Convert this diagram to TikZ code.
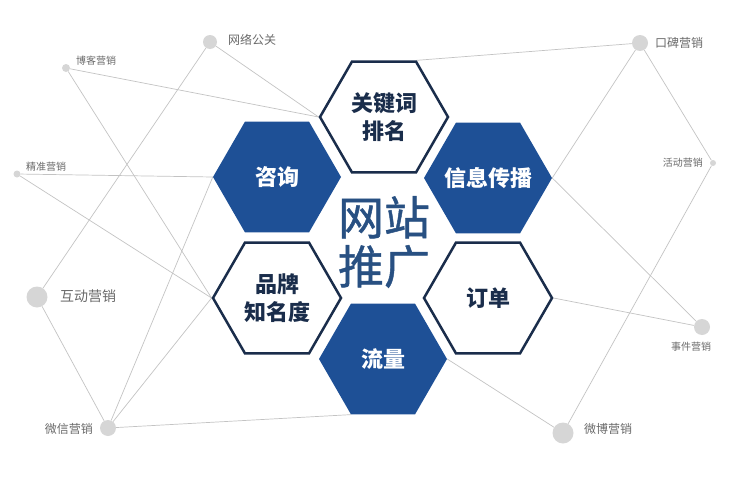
\documentclass[tikz,border=0pt]{standalone}
\usepackage{fontspec}
\newfontfamily\cjk{Noto Sans CJK SC}
\newfontfamily\cjkmid[FakeBold=1]{Noto Sans CJK SC}
\usetikzlibrary{shapes.geometric}
\usetikzlibrary{backgrounds}
\definecolor{hexblue}{RGB}{30,80,150}
\definecolor{hexnavy}{RGB}{26,45,75}
\definecolor{titleblue}{RGB}{40,80,130}
\definecolor{linegray}{RGB}{195,195,195}
\definecolor{dotgray}{RGB}{214,214,214}
\definecolor{labelgray}{RGB}{105,105,105}
\tikzset{
	hexfill/.style={regular polygon,regular polygon sides=6,minimum size=128pt,inner sep=0pt,inner xsep=-14pt,
		fill=hexblue,text=white,align=center,font=\cjk\bfseries\fontsize{22}{28}\selectfont},
	hexline/.style={hexfill,fill=white,draw=hexnavy,line width=2.5pt,text=hexnavy},
	spot/.style={circle,fill=dotgray,inner sep=0pt,minimum size=#1},
	tag/.style={text=labelgray,inner sep=0pt,font=\cjk\fontsize{#1}{#1}\selectfont},
	link/.style={draw=linegray,line width=0.7pt}
}
\begin{document}
\begin{tikzpicture}[x=1pt,y=-1pt]
	\useasboundingbox (0,0) rectangle (750,479);

	% honeycomb
	\node[hexline] (kw) at (384,117) {关键词\\排名};
	\node[hexfill] (zx) at (277,177) {咨询};
	\node[hexfill] (xx) at (488,178) {信息传播};
	\node[hexline] (pp) at (277,298) {品牌\\知名度};
	\node[hexline] (dd) at (488,298) {订单};
	\node[hexfill] (ll) at (383,359) {流量};
	\node[text=titleblue,align=center,font=\cjkmid\fontsize{46}{49}\selectfont] (wz) at (384,242) {网站\\推广};

	% outer dots
	\node[spot=14pt] (wl) at (210,42) {};
	\node[spot=8pt] (bk) at (66,68) {};
	\node[spot=7pt] (jz) at (17,174) {};
	\node[spot=21pt] (hd) at (37,297) {};
	\node[spot=16pt] (wx) at (108,428) {};
	\node[spot=16pt] (kb) at (640,43) {};
	\node[spot=6pt] (hdy) at (713,163) {};
	\node[spot=16pt] (sj) at (702,327) {};
	\node[spot=21pt] (wb) at (563,433) {};

	\node[tag=12,anchor=west] (twl) at (228,40) {网络公关};
	\node[tag=10,anchor=west] (tbk) at (76,61) {博客营销};
	\node[tag=10,anchor=west] (tjz) at (26,167) {精准营销};
	\node[tag=14,anchor=west] (thd) at (60,296) {互动营销};
	\node[tag=12,anchor=east] (twx) at (93,429) {微信营销};
	\node[tag=12,anchor=west] (tkb) at (655,43) {口碑营销};
	\node[tag=10,anchor=east] (thdy) at (703,163) {活动营销};
	\node[tag=10] (tsj) at (691,347) {事件营销};
	\node[tag=12,anchor=west] (twb) at (584,429) {微博营销};

	\begin{scope}[on background layer]
	\draw[link] (wl) -- (kw.west);
	\draw[link] (bk) -- (kw.west);
	\draw[link] (bk) -- (pp.west);
	\draw[link] (wl) -- (hd);
	\draw[link] (jz) -- (zx.west);
	\draw[link] (jz) -- (pp.west);
	\draw[link] (hd) -- (wx);
	\draw[link] (wx) -- (zx.west);
	\draw[link] (wx) -- (pp.west);
	\draw[link] (wx) -- (ll.240);
	\draw[link] (kb) -- (kw.60);
	\draw[link] (kb) -- (xx.east);
	\draw[link] (kb) -- (hdy);
	\draw[link] (hdy) -- (wb);
	\draw[link] (xx.east) -- (sj);
	\draw[link] (dd.east) -- (sj);
	\draw[link] (ll.east) -- (wb);
	\end{scope}
\end{tikzpicture}
\end{document}
